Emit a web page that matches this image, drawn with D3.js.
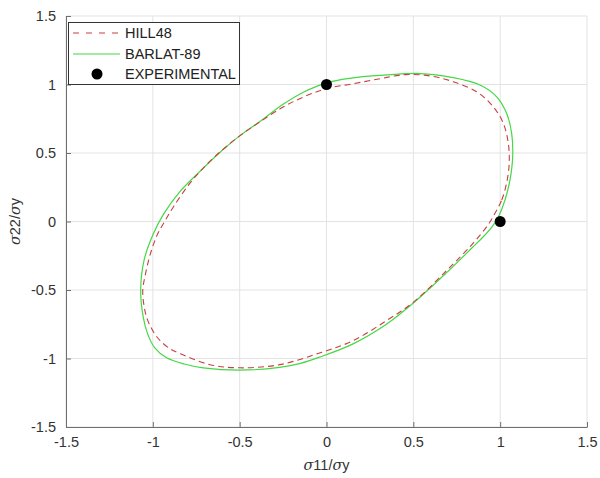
<!DOCTYPE html>
<html>
<head>
<meta charset="utf-8">
<script src="https://cdn.jsdelivr.net/npm/d3@7"></script>
<style>
  body { margin: 0; background: #fff; }
  svg { font-family: "Liberation Sans", Arial, sans-serif; }
</style>
</head>
<body>
<svg></svg>
<script>
// tick values
const xTicks = [-1.5, -1, -0.5, 0, 0.5, 1, 1.5]
const yTicks = [-1.5, -1, -0.5, 0, 0.5, 1, 1.5]

// HILL48 curve (s11, s22), counter-clockwise
const hillX = [0.97, 1.009, 1.037, 1.052, 1.047, 1.018, 0.96, 0.865, 0.73, 0.60, 0.45, 0.30, 0.15, 0.00, -0.13, -0.25, -0.38, -0.50, -0.62, -0.71, -0.786, -0.88, -0.932, -0.972, -1.015, -1.045, -1.058, -1.05, -1.03, -0.975, -0.90, -0.84, -0.67, -0.50, -0.27, -0.04, 0.153, 0.345, 0.50, 0.69, 0.84, 0.93]
const hillY = [0.06, 0.157, 0.28, 0.425, 0.57, 0.717, 0.838, 0.947, 1.02, 1.062, 1.072, 1.04, 1.005, 0.97, 0.91, 0.835, 0.73, 0.625, 0.50, 0.39, 0.28, 0.11, 0.00, -0.09, -0.24, -0.40, -0.50, -0.62, -0.72, -0.845, -0.93, -0.966, -1.045, -1.068, -1.045, -0.96, -0.87, -0.724, -0.59, -0.36, -0.165, -0.025]

// BARLAT-89 curve
const barlatX = [0.99, 1.028, 1.056, 1.072, 1.066, 1.037, 0.98, 0.884, 0.73, 0.538, 0.33, 0.13, 0.00, -0.13, -0.25, -0.383, -0.50, -0.60, -0.709, -0.843, -0.94, -0.997, -1.05, -1.07, -1.055, -1.03, -0.99, -0.92, -0.82, -0.71, -0.50, -0.27, -0.15, -0.04, 0.15, 0.345, 0.50, 0.69, 0.84, 0.90, 0.955]
const barlatY = [0.035, 0.157, 0.30, 0.47, 0.645, 0.79, 0.91, 0.996, 1.05, 1.08, 1.068, 1.045, 1.012, 0.945, 0.855, 0.73, 0.625, 0.52, 0.39, 0.22, 0.05, -0.09, -0.28, -0.50, -0.70, -0.82, -0.92, -0.995, -1.04, -1.068, -1.085, -1.065, -1.035, -0.99, -0.895, -0.75, -0.595, -0.375, -0.19, -0.115, -0.035]

// experimental points
const expX = [0, 1]
const expY = [1, 0]

const svgWidth = 600
const svgHeight = 478
const plotLeft = 66, plotRight = 587, plotTop = 16, plotBottom = 427

const svg = d3.select('svg')
  .attr('width', svgWidth)
  .attr('height', svgHeight)

const xScale = d3.scaleLinear().domain([-1.5, 1.5]).range([plotLeft, plotRight])
const yScale = d3.scaleLinear().domain([-1.5, 1.5]).range([plotBottom, plotTop])

const fmt = d => String(d)

// grid
svg.append('g')
  .selectAll('line')
  .data(xTicks)
  .enter()
  .append('line')
  .attr('x1', d => xScale(d)).attr('x2', d => xScale(d))
  .attr('y1', plotTop).attr('y2', plotBottom)
  .attr('stroke', '#e3e3e3')
svg.append('g')
  .selectAll('line')
  .data(yTicks)
  .enter()
  .append('line')
  .attr('y1', d => yScale(d)).attr('y2', d => yScale(d))
  .attr('x1', plotLeft).attr('x2', plotRight)
  .attr('stroke', '#e3e3e3')

// axes (ticks inward)
const xAxis = d3.axisBottom(xScale).tickValues(xTicks).tickFormat(fmt).tickSizeInner(-5).tickSizeOuter(0).tickPadding(10)
const yAxis = d3.axisLeft(yScale).tickValues(yTicks).tickFormat(fmt).tickSizeInner(-5).tickSizeOuter(0).tickPadding(10)

const gx = svg.append('g').attr('transform', 'translate(0,' + plotBottom + ')').call(xAxis)
const gy = svg.append('g').attr('transform', 'translate(' + plotLeft + ',0)').call(yAxis)
;[gx, gy].forEach(g => {
  g.select('.domain').attr('stroke', '#6e6e6e')
  g.selectAll('.tick line').attr('stroke', '#6e6e6e')
  g.selectAll('.tick text').attr('fill', '#333').style('font-size', '14.5px').style('font-family', '"Liberation Sans", Arial, sans-serif')
})

// curves
const line = d3.line()
  .x(d => xScale(d[0]))
  .y(d => yScale(d[1]))
  .curve(d3.curveCatmullRomClosed)

svg.append('path')
  .datum(d3.zip(barlatX, barlatY))
  .attr('d', line)
  .attr('fill', 'none')
  .attr('stroke', '#45d845')
  .attr('stroke-width', 1.2)

svg.append('path')
  .datum(d3.zip(hillX, hillY))
  .attr('d', line)
  .attr('fill', 'none')
  .attr('stroke', '#cc3d3f')
  .attr('stroke-width', 1.1)
  .attr('stroke-dasharray', '6,4')

svg.append('g')
  .selectAll('circle')
  .data(d3.zip(expX, expY))
  .enter()
  .append('circle')
  .attr('cx', d => xScale(d[0]))
  .attr('cy', d => yScale(d[1]))
  .attr('r', 5.5)
  .attr('fill', '#000')

// axis labels
svg.append('text')
  .attr('x', (plotLeft + plotRight) / 2)
  .attr('y', 470)
  .attr('text-anchor', 'middle')
  .attr('fill', '#333')
  .style('font-size', '14.5px')
  .html('<tspan font-family="DejaVu Serif" font-style="italic">σ</tspan>11/<tspan font-family="DejaVu Serif" font-style="italic">σ</tspan>y')

svg.append('text')
  .attr('transform', 'translate(20,' + yScale(0) + ') rotate(-90)')
  .attr('text-anchor', 'middle')
  .attr('fill', '#333')
  .style('font-size', '14.5px')
  .html('<tspan font-family="DejaVu Serif" font-style="italic">σ</tspan>22/<tspan font-family="DejaVu Serif" font-style="italic">σ</tspan>y')

// legend
const legend = svg.append('g')
legend.append('rect')
  .attr('x', 68.5).attr('y', 22.5)
  .attr('width', 171).attr('height', 62)
  .attr('fill', '#fff')
  .attr('stroke', '#333')
  .attr('stroke-width', 1)

const names = ['HILL48', 'BARLAT-89', 'EXPERIMENTAL']
const rowY = [33, 54, 74]
legend.append('line')
  .attr('x1', 73).attr('x2', 120).attr('y1', rowY[0]).attr('y2', rowY[0])
  .attr('stroke', '#cc3d3f').attr('stroke-width', 1.1).attr('stroke-dasharray', '6,7')
legend.append('line')
  .attr('x1', 73).attr('x2', 120).attr('y1', rowY[1]).attr('y2', rowY[1])
  .attr('stroke', '#45d845').attr('stroke-width', 1.2)
legend.append('circle')
  .attr('cx', 97).attr('cy', rowY[2]).attr('r', 5.5).attr('fill', '#000')
legend.selectAll('text.lab')
  .data(names)
  .enter()
  .append('text')
  .attr('class', 'lab')
  .attr('x', 125)
  .attr('y', (d, i) => rowY[i])
  .attr('dy', '0.35em')
  .attr('fill', '#222')
  .style('font-size', '14.5px')
  .text(d => d)
</script>
</body>
</html>
